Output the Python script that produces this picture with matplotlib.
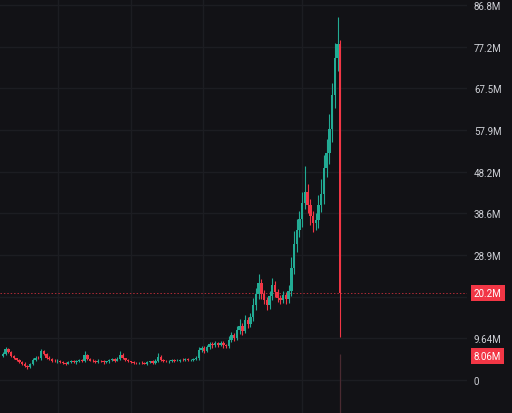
import matplotlib.pyplot as plt
import matplotlib.ticker as mticker
import numpy as np

# candle closes, in millions (first open given separately, then open = previous close)
first_open = 5.6
closes = [6.0, 7.2, 6.5, 5.6, 5.0, 4.6, 4.2, 3.8, 3.2, 3.0,
          3.6, 4.6, 5.2, 5.0, 6.6, 6.0, 5.2, 4.8, 4.5, 4.3,
          4.5, 4.2, 4.0, 3.8, 4.2, 4.4, 4.1, 4.3, 4.6, 4.4,
          5.8, 4.9, 4.5, 4.4, 4.2, 4.5, 4.3, 4.1, 4.3, 4.6,
          4.8, 4.5, 4.9, 5.9, 5.0, 4.6, 4.3, 4.2, 4.0, 3.9,
          4.0, 3.9, 3.8, 4.1, 4.3, 4.0, 4.5, 5.4, 4.7, 4.4,
          4.3, 4.4, 4.6, 4.5, 4.5, 4.7, 4.6, 4.8, 4.6, 4.7,
          4.9, 5.1, 6.9, 7.4, 6.8, 7.6, 8.3, 8.0, 8.5, 8.2,
          8.6, 8.0, 7.8, 9.3, 10.4, 9.8, 11.5, 12.6, 11.4, 13.8,
          13.0, 14.6, 17.4, 19.8, 22.4, 20.0, 18.6, 17.4, 19.5, 22.0,
          20.4, 19.0, 18.6, 19.6, 18.8, 20.6, 26.0, 31.5, 34.8, 37.2,
          41.0, 43.5, 40.6, 38.0, 36.4, 37.0, 40.5, 43.0, 49.0, 52.5,
          58.0, 66.0, 74.5, 77.8, 20.2]

# wick lengths above / below the body, in millions
upper_wick = [0.4, 0.5, 0.3, 0.2, 0.3, 0.2, 0.3, 0.2, 0.3, 0.2,
              0.3, 0.4, 0.3, 0.3, 0.6, 0.3, 0.2, 0.3, 0.2, 0.3,
              0.3, 0.2, 0.3, 0.2, 0.3, 0.3, 0.2, 0.3, 0.3, 0.2,
              0.9, 0.3, 0.2, 0.3, 0.2, 0.3, 0.2, 0.3, 0.2, 0.3,
              0.3, 0.2, 0.4, 0.8, 0.3, 0.2, 0.3, 0.2, 0.3, 0.2,
              0.2, 0.3, 0.2, 0.3, 0.2, 0.3, 0.4, 0.9, 0.3, 0.2,
              0.3, 0.2, 0.3, 0.2, 0.3, 0.2, 0.3, 0.2, 0.3, 0.2,
              0.3, 0.4, 0.8, 0.5, 0.4, 0.6, 0.5, 0.4, 0.6, 0.3,
              0.5, 0.4, 0.3, 0.8, 0.7, 0.5, 0.9, 1.6, 0.6, 1.2,
              0.8, 1.0, 1.5, 1.6, 2.2, 1.0, 0.8, 0.6, 1.2, 1.5,
              0.9, 0.7, 0.6, 1.0, 0.8, 1.4, 2.5, 3.0, 2.4, 2.0,
              2.5, 6.0, 1.8, 1.4, 1.2, 1.6, 2.4, 3.5, 3.0, 3.2,
              3.5, 2.8, 3.6, 6.2, 1.0]
lower_wick = [0.3, 0.3, 0.2, 0.3, 0.2, 0.3, 0.2, 0.3, 0.3, 0.4,
              0.3, 0.2, 0.3, 0.2, 0.3, 0.2, 0.3, 0.2, 0.3, 0.2,
              0.3, 0.2, 0.3, 0.3, 0.2, 0.3, 0.2, 0.3, 0.2, 0.3,
              0.2, 0.3, 0.2, 0.3, 0.2, 0.3, 0.2, 0.3, 0.2, 0.3,
              0.2, 0.3, 0.2, 0.3, 0.2, 0.3, 0.2, 0.3, 0.2, 0.3,
              0.2, 0.3, 0.2, 0.3, 0.2, 0.3, 0.2, 0.3, 0.2, 0.3,
              0.2, 0.3, 0.2, 0.3, 0.2, 0.3, 0.2, 0.3, 0.2, 0.3,
              0.2, 0.3, 0.4, 0.5, 0.6, 0.4, 0.5, 0.6, 0.4, 0.5,
              0.4, 0.6, 0.5, 0.4, 0.6, 0.7, 0.5, 0.8, 0.9, 0.6,
              1.0, 0.8, 0.9, 1.2, 1.0, 1.2, 1.0, 1.1, 0.9, 1.0,
              1.2, 0.9, 1.0, 0.8, 1.1, 0.9, 1.2, 1.5, 1.8, 1.6,
              1.8, 1.5, 2.0, 2.2, 2.1, 1.6, 1.8, 1.5, 2.2, 2.0,
              2.5, 2.8, 3.0, 3.0, 10.2]

price_ticks = [0, 9.644, 19.289, 28.933, 38.578, 48.222, 57.867, 67.511, 77.156, 86.8]
# the 19.3M label sits under the last-price tag, so it stays blank
price_labels = ["0", "9.64M", "", "28.9M", "38.6M", "48.2M", "57.9M", "67.5M", "77.2M", "86.8M"]
time_grid = [20.2, 47.0, 73.5, 110.0]
last_price = 20.2
marker_price = 8.06

BG = "#121216"
GRID = "#1c1d22"
UP = "#22ab94"
DOWN = "#f23645"
TXT = "#cfd1d7"

closes = np.array(closes)
opens = np.concatenate([[first_open], closes[:-1]])
highs = np.maximum(opens, closes) + np.array(upper_wick)
lows = np.minimum(opens, closes) - np.array(lower_wick)
idx = np.arange(len(closes))
colors = [UP if c >= o else DOWN for o, c in zip(opens, closes)]

fig = plt.figure(figsize=(5.12, 4.14), dpi=100, facecolor=BG)
ax = fig.add_axes([0, 0, 467 / 512, 1])
ax.set_facecolor(BG)

ax.vlines(idx, lows, highs, colors=colors, linewidth=0.8, zorder=3)
ax.bar(idx, np.abs(closes - opens), bottom=np.minimum(opens, closes), width=0.9,
       color=colors, linewidth=0, zorder=4)

# faint bar under the last candle
ax.vlines(idx[-1], -8, 6, colors="#4a2a31", linewidth=0.9, zorder=2)

ax.axhline(last_price, color=DOWN, linewidth=0.7, linestyle=(0, (1.5, 2)), alpha=0.7, zorder=2)

ax.set_xlim(-1.1, 170.6)
ax.set_ylim(-7.64, 88.19)

ax.yaxis.tick_right()
ax.yaxis.set_major_locator(mticker.FixedLocator(price_ticks))
ax.yaxis.set_major_formatter(mticker.FixedFormatter(price_labels))
ax.tick_params(axis="y", length=0, pad=5, labelsize=7, labelcolor=TXT)
for lab in ax.get_yticklabels():
    lab.set_fontfamily("Roboto")
ax.set_xticks(time_grid)
ax.tick_params(axis="x", length=0, labelbottom=False)
ax.grid(True, color=GRID, linewidth=1.0, zorder=0)
ax.set_axisbelow(True)
for s in ax.spines.values():
    s.set_visible(False)

box = dict(boxstyle="square,pad=0.3", fc=DOWN, ec="none")
ax.annotate(f"{last_price:.1f}M", xy=(1, last_price), xycoords=("axes fraction", "data"),
            xytext=(5, 0), textcoords="offset points", ha="left", va="center",
            fontsize=7, family="Roboto", color="white", bbox=box, annotation_clip=False, zorder=10)
ax.annotate(f"{marker_price:.2f}M", xy=(1, marker_price), xycoords=("axes fraction", "data"),
            xytext=(5, -7.5), textcoords="offset points", ha="left", va="center",
            fontsize=7, family="Roboto", color="white", bbox=box, annotation_clip=False, zorder=10)

fig.savefig("out.png", dpi=100, facecolor=BG)
